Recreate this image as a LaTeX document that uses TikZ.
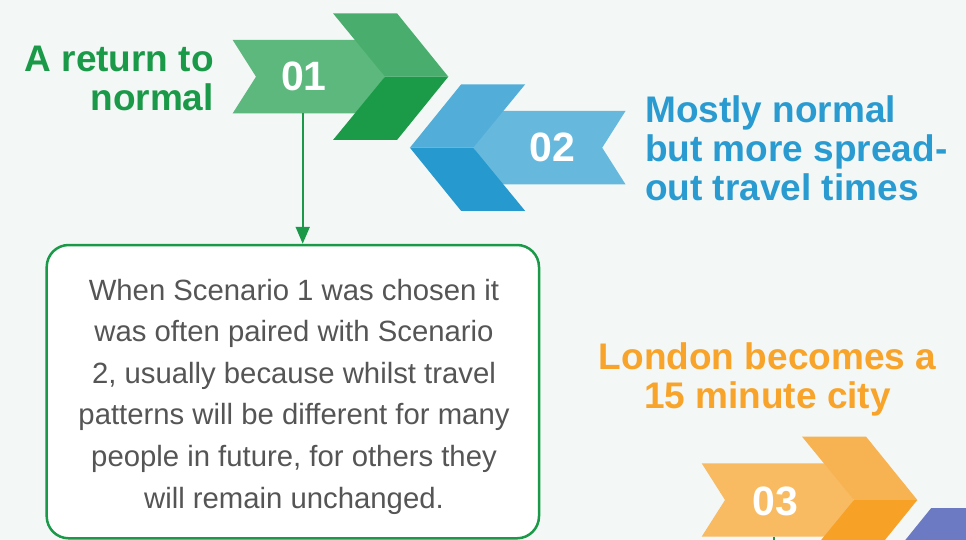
\documentclass[tikz,border=0pt]{standalone}
\usepackage{fontspec}
\setmainfont{Liberation Sans}
\usetikzlibrary{arrows.meta}
\definecolor{bg}{HTML}{F3F7F6}
\definecolor{gban}{HTML}{5DB87E}
\definecolor{gtop}{HTML}{49AE6D}
\definecolor{gbot}{HTML}{1B9B47}
\definecolor{gtext}{HTML}{1A9A48}
\definecolor{bban}{HTML}{66B9DD}
\definecolor{btop}{HTML}{52AED8}
\definecolor{bbot}{HTML}{269ACE}
\definecolor{btext}{HTML}{2A9BD0}
\definecolor{oban}{HTML}{F8BB62}
\definecolor{otop}{HTML}{F7B352}
\definecolor{obot}{HTML}{F7A127}
\definecolor{otext}{HTML}{F8A42A}
\definecolor{ptop}{HTML}{6C7AC4}
\definecolor{bodygrey}{HTML}{555555}
\tikzset{
  head/.style={inner sep=0pt, font=\bfseries\fontsize{37}{39}\selectfont},
  num/.style={inner sep=0pt, text=white, font=\bfseries\fontsize{41}{45}\selectfont},
  bodytext/.style={inner sep=0pt, text=bodygrey, font=\fontsize{29.3}{41.6}\selectfont},
  textbox/.style={draw=gtext, line width=2.5pt, fill=white, rounded corners=22pt, inner sep=0pt},
  conn/.style={draw=gtext, line width=2pt, -{Triangle[width=14pt,length=17pt]}},
  stub/.style={draw=gtext, line width=2pt}
}
\newcommand{\bannershape}[1]{\fill[#1] (232.7,40) -- (360,40) -- (385,76.7) -- (360,113.3) -- (232.7,113.3) -- (256,76.7) -- cycle;}
\newcommand{\chevtop}[1]{\fill[#1] (333,13.3) -- (397,13.3) -- (448.3,76.7) -- (385,76.7) -- cycle;}
\newcommand{\chevbot}[1]{\fill[#1] (385,76.7) -- (448.3,76.7) -- (397,140) -- (333,140) -- cycle;}
\begin{document}
\begin{tikzpicture}[x=1pt,y=-1pt]
\useasboundingbox (0,0) rectangle (966,540);
\clip (0,0) rectangle (966,540);
\fill[bg] (0,0) rectangle (966,540);
% 01 green
\bannershape{gban}
\chevtop{gtop}
\chevbot{gbot}
% 02 blue (mirrored)
\begin{scope}[shift={(858.2,71)}, xscale=-1]
\bannershape{bban}
\chevtop{btop}
\chevbot{bbot}
\end{scope}
% 03 orange
\begin{scope}[shift={(469,423.3)}]
\bannershape{oban}
\chevtop{otop}
\chevbot{obot}
\end{scope}
% 04 purple (partly visible)
\begin{scope}[shift={(1328.2,494.7)}, xscale=-1]
\chevtop{ptop}
\end{scope}
% numbers
\node[num] (n1) at (304,76.7) {01};
\node[num] (n2) at (552,147.5) {02};
\node[num] (n3) at (775,501) {03};
% headings
\node[head, text=gtext, anchor=base east] (h1) at (214,71.7)
  {\begin{tabular}[t]{@{}r@{}}A return to\\normal\end{tabular}};
\node[head, text=btext, anchor=base west] (h2) at (645,123)
  {\begin{tabular}[t]{@{}l@{}}Mostly normal\\but more spread-\\out travel times\end{tabular}};
\node[head, text=otext, anchor=base] (h3) at (767.5,369.3)
  {\begin{tabular}[t]{@{}c@{}}London becomes a\\15 minute city\end{tabular}};
% text box
\node[textbox, minimum width=492.3pt, minimum height=293.3pt] (box) at (292.85,391.65) {};
\node[bodytext, anchor=base] (body) at (294,300)
  {\begin{tabular}[t]{@{}c@{}}When Scenario 1 was chosen it\\was often paired with Scenario\\2, usually because whilst travel\\patterns will be different for many\\people in future, for others they\\will remain unchanged.\end{tabular}};
% connectors
\coordinate (b1) at (302.7,113.3);
\draw[conn] (b1) -- (b1 |- box.north);
\coordinate (b3) at (774,536.7);
\coordinate (b3e) at (774,545);
\draw[stub] (b3) -- (b3e);
\end{tikzpicture}
\end{document}
